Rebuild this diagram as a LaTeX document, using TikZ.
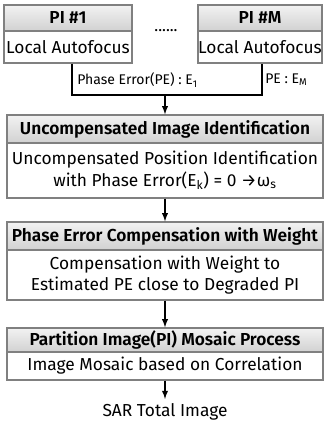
\documentclass[tikz,border=0pt]{standalone}
\usepackage{fontspec}
\setmainfont{Fira Sans}[BoldFont={Fira Sans SemiBold}]
\usetikzlibrary{arrows}

\tikzset{
  headbox/.style={draw=black!50, line width=1.1pt, top color=black!5, bottom color=black!18,
    font=\bfseries\fontsize{13}{15}\selectfont, inner sep=0pt},
  bodybox/.style={draw=black!50, line width=1.1pt, fill=white, align=center,
    font=\fontsize{13}{16}\selectfont, inner sep=0pt},
  flow/.style={line width=1.1pt, -latex},
  link/.style={line width=1.1pt}
}

\begin{document}
\begin{tikzpicture}[x=0.75pt, y=-0.75pt]
\useasboundingbox (0,0) rectangle (324,425);

% partition images
\node[headbox, minimum width=96pt, minimum height=19.5pt] (pi1head) at (68,18) {PI \#1};
\node[bodybox, minimum width=96pt, minimum height=24pt] (pi1body) at (68,47) {Local Autofocus};
\node[headbox, minimum width=93pt, minimum height=19.5pt] (pimhead) at (260,18) {PI \#M};
\node[bodybox, minimum width=93pt, minimum height=24pt] (pimbody) at (260,47) {Local Autofocus};
\node[font=\fontsize{12}{14}\selectfont] (dots) at (166,31) {......};

% merging the phase errors
\coordinate (merge) at (165,95);
\draw[link] (pi1body.south -| 72,0) |- (merge) -| (pimbody.south -| 262,0);
\node[anchor=west, font=\fontsize{10.5}{13}\selectfont, inner sep=0pt] (pe1) at (77,80) {Phase Error(PE) : E\textsubscript{1}};
\node[anchor=west, font=\fontsize{10.5}{13}\selectfont, inner sep=0pt] (pem) at (265,80) {PE : E\textsubscript{M}};

% processing steps
\node[headbox, minimum width=237pt, minimum height=21pt] (uiihead) at (165,129) {Uncompensated Image Identification};
\node[bodybox, minimum width=237pt, minimum height=41pt] (uiibody) at (165,170.5)
  {Uncompensated Position Identification\\with Phase Error(E\textsubscript{k}) = 0 →ω\textsubscript{s}};

\node[headbox, minimum width=237pt, minimum height=21pt] (pechead) at (165,236) {Phase Error Compensation with Weight};
\node[bodybox, minimum width=237pt, minimum height=37.5pt] (pecbody) at (165,275)
  {Compensation with Weight to\\Estimated PE close to Degraded PI};

\node[headbox, minimum width=237pt, minimum height=18pt] (pmphead) at (165,340) {Partition Image(PI) Mosaic Process};
\node[bodybox, minimum width=237pt, minimum height=21pt] (pmpbody) at (165,366) {Image Mosaic based on Correlation};

\node[font=\fontsize{13}{15}\selectfont] (sar) at (165,412) {SAR Total Image};

\draw[flow] (merge) -- (uiihead.north);
\draw[flow] (uiibody) -- (pechead);
\draw[flow] (pecbody) -- (pmphead);
\draw[flow] (pmpbody) -- (sar);
\end{tikzpicture}
\end{document}
